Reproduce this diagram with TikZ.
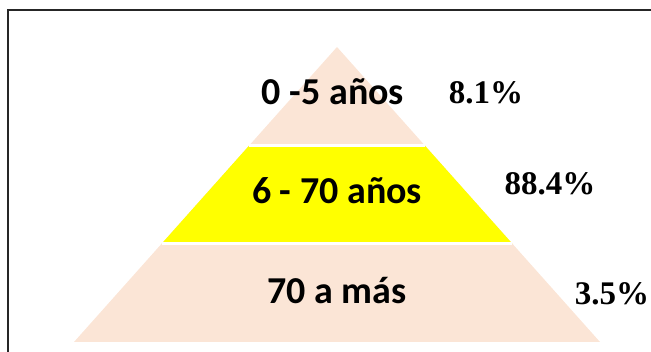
\documentclass[tikz,border=0pt]{standalone}
\usepackage{fontspec}
\usepackage{tikz}
\usetikzlibrary{calc}
\newfontfamily\carl{Carlito}
\newfontfamily\tnr{Liberation Serif}
\definecolor{peach}{HTML}{FBE5D6}
\definecolor{yell}{HTML}{FFFF00}
\tikzset{
  age/.style={anchor=base,inner sep=0pt,font=\carl\bfseries\fontsize{38}{38}\selectfont},
  pct/.style={anchor=base,inner sep=0pt,font=\tnr\bfseries\fontsize{33}{33}\selectfont},
  gap/.style={draw=white,line width=2.4pt}
}
\begin{document}
\begin{tikzpicture}[x=1pt,y=-1pt]
\useasboundingbox (0,0) rectangle (651,352);

\coordinate (P) at (337,47);
\coordinate (L) at (74,342);
\coordinate (R) at (600,342);

\fill[peach] (P) -- (L) -- (R) -- cycle;
\fill[yell] ($(P)!1/3!(L)$) -- ($(P)!2/3!(L)$) -- ($(P)!2/3!(R)$) -- ($(P)!1/3!(R)$) -- cycle;
\draw[gap] ($(P)!1/3!(L)$) -- ($(P)!1/3!(R)$);
\draw[gap] ($(P)!2/3!(L)$) -- ($(P)!2/3!(R)$);

% frame, only top and left show
\draw[line width=2pt,black!85] (7.5,352) -- (7.5,10) -- (651,10);

\node[age] (T) at (333,104.5) {0 -5 años};
\node[age] (M) at (337,203.5) {6 - 70 años};
\node[age] (B) at (337,303.5) {70 a más};

\node[pct] (Tp) at (486,103.5) {8.1\%};
\node[pct] (Mp) at (550,194.5) {88.4\%};
\node[pct] (Bp) at (612,305) {3.5\%};

\end{tikzpicture}
\end{document}
